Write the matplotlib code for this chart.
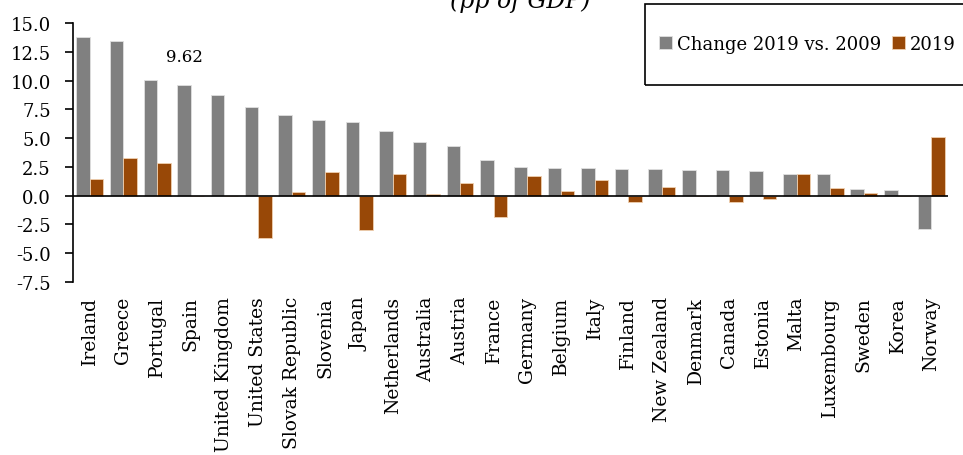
import numpy as np
import matplotlib.pyplot as plt
from matplotlib.patches import Rectangle

# Data
countries = ['Ireland', 'Greece', 'Portugal', 'Spain', 'United Kingdom', 'United States',
             'Slovak Republic', 'Slovenia', 'Japan', 'Netherlands', 'Australia', 'Austria',
             'France', 'Germany', 'Belgium', 'Italy', 'Finland', 'New Zealand', 'Denmark',
             'Canada', 'Estonia', 'Malta', 'Luxembourg', 'Sweden', 'Korea', 'Norway']
change_2019_vs_2009 = [13.8, 13.4, 10.02, 9.62, 8.71, 7.69, 7.02, 6.58, 6.38, 5.59, 4.66, 4.28,
                       3.06, 2.51, 2.42, 2.39, 2.31, 2.31, 2.27, 2.24, 2.16, 1.87, 1.87, 0.61,
                       0.52, -2.91]
level_2019 = [1.43, 3.27, 2.88, 0.0, 0.0, -3.67, 0.29, 2.04, -2.94, 1.87, 0.15, 1.14,
              -1.89, 1.69, 0.44, 1.37, -0.58, 0.73, 0.0, -0.52, -0.26, 1.9, 0.67, 0.24,
              0.0, 5.1]
yticks = [15.0, 12.5, 10.0, 7.5, 5.0, 2.5, 0.0, -2.5, -5.0, -7.5]

GREY = '#808080'
ORANGE = '#984807'

plt.rcParams['font.family'] = ['DejaVu Serif']

fig = plt.figure(figsize=(9.63, 4.56), dpi=100)
ax = fig.add_axes([73 / 963, 1 - 283 / 456, 875 / 963, 259 / 456])

x = np.arange(len(countries))
w = 0.4
ax.bar(x - w / 2, change_2019_vs_2009, w, color=GREY, edgecolor='#e0e0e0', linewidth=0.6,
       label='Change 2019 vs. 2009')
ax.bar(x + w / 2, level_2019, w, color=ORANGE, edgecolor='#f0d0b0', linewidth=0.6,
       label='2019')

# data label on Spain
spain = countries.index('Spain')
ax.annotate(f'{change_2019_vs_2009[spain]:.2f}', (x[spain] - w / 2, change_2019_vs_2009[spain]),
            xytext=(0, 14), textcoords='offset points', ha='center', va='bottom', fontsize=12)

ax.axhline(0, color='black', linewidth=1.2, zorder=3)
ax.set_xlim(-0.5, len(countries) - 0.5)
ax.set_ylim(-7.5, 15.0)
ax.set_yticks(yticks)
ax.set_yticklabels([f'{v:.1f}' for v in yticks])
ax.set_xticks(x)
ax.set_xticklabels(countries, rotation=90, fontsize=13.5)
ax.tick_params(axis='x', length=0, pad=10)
ax.tick_params(axis='y', direction='out', length=6, width=1.2, pad=10, labelsize=13)
for s in ['top', 'right', 'bottom']:
    ax.spines[s].set_visible(False)
ax.spines['left'].set_linewidth(1.2)

# title, partly cut off at the top
fig.text(520 / 963, 1 - 8 / 456, '(pp of GDP)', style='italic', fontsize=17,
         ha='center', va='baseline')

# legend with its box
fig.patches.append(Rectangle((645 / 963, 1 - 86 / 456), 340 / 963, 81 / 456,
                             transform=fig.transFigure, fill=False, edgecolor='black',
                             linewidth=1.2))
fig.legend(loc='center left', bbox_to_anchor=(650 / 963, 1 - 45 / 456), ncol=2,
           frameon=False, fontsize=13, handlelength=0.7, handleheight=0.7,
           handletextpad=0.3, columnspacing=0.6, borderpad=0)

fig.savefig('out.png', dpi=100)
